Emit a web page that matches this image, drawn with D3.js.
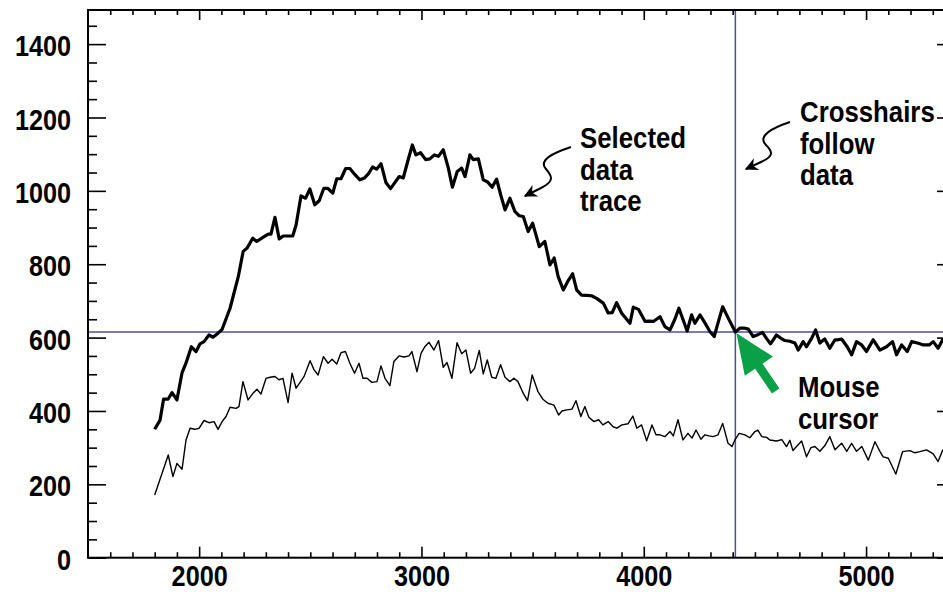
<!DOCTYPE html>
<html>
<head>
<meta charset="utf-8">
<script src="https://cdn.jsdelivr.net/npm/d3@7"></script>
<style>
html, body { margin: 0; padding: 0; background: #fff; overflow: hidden; }
text { font-family: "Liberation Sans", Arial, Helvetica, sans-serif; font-weight: bold; fill: #000; }
</style>
</head>
<body>
<div id="chart"></div>
<script>
// selected (thick) trace
var traceX = [1800,1824,1840,1860,1878,1900,1923,1941,1965,1986,2004,2022,2044,2062,2085,2103,2139,2176,2198,2216,
  2241,2259,2292,2311,2323,2341,2360,2378,2398,2421,2436,2458,2479,2498,2520,2540,2561,2578,2601,2619,
  2638,2659,2678,2701,2723,2743,2761,2780,2798,2818,2840,2861,2881,2900,2918,2938,2959,2975,2996,3019,
  3038,3058,3076,3098,3121,3139,3161,3181,3196,3218,3233,3256,3278,3296,3318,3338,3356,3376,3398,3420,
  3440,3458,3480,3500,3515,3530,3555,3578,3597,3615,3638,3658,3680,3698,3720,3743,3765,3788,3818,3840,
  3858,3878,3900,3920,3938,3953,3976,4006,4024,4043,4073,4095,4118,4140,4158,4176,4195,4215,4230,4253,
  4275,4298,4317,4334,4355,4380,4412,4433,4451,4470,4492,4513,4534,4552,4570,4597,4617,4635,4657,4680,
  4695,4717,4732,4755,4773,4792,4814,4837,4860,4873,4890,4915,4935,4957,4980,5002,5017,5032,5047,5062,
  5092,5119,5137,5160,5185,5205,5227,5242,5257,5284,5302,5324,5345,5368];
var traceY = [350,375,432,432,450,430,504,531,575,562,583,589,607,601,612,622,680,766,835,844,
  871,862,875,882,882,928,869,877,877,877,907,986,980,1005,962,973,1007,1007,994,1033,
  1033,1061,1061,1044,1030,1035,1046,1065,1059,1074,1023,1006,1023,1039,1035,1080,1125,1098,1104,1085,
  1087,1098,1094,1112,1062,1010,1053,1062,1039,1098,1085,1087,1030,1025,1010,1032,990,948,980,944,
  932,930,889,912,880,848,862,798,817,766,730,753,774,730,716,715,714,707,694,667,
  668,695,667,652,639,683,677,644,645,644,657,630,621,650,680,650,618,662,639,662,
  640,616,603,640,684,653,615,626,626,623,603,608,614,598,583,607,598,592,590,585,
  566,589,575,598,621,585,596,571,594,594,596,575,553,589,580,562,578,594,580,566,
  575,589,553,580,562,589,586,583,580,580,589,571,595,590];

// second (thin) trace
var otherX = [1800,1861,1882,1900,1923,1941,1959,1981,2000,2022,2044,2067,2085,2103,2121,2139,2166,2179,2197,2220,
  2242,2260,2278,2301,2319,2341,2359,2377,2400,2418,2436,2454,2472,2499,2517,2535,2559,2580,2598,2619,
  2638,2658,2678,2699,2719,2737,2755,2777,2800,2818,2836,2858,2876,2899,2921,2944,2957,2980,2998,3016,
  3034,3056,3077,3098,3115,3137,3160,3181,3200,3221,3239,3260,3278,3296,3316,3335,3356,3376,3398,3416,
  3434,3458,3477,3498,3524,3546,3569,3596,3617,3632,3654,3677,3695,3717,3735,3753,3776,3797,3816,3840,
  3862,3879,3902,3929,3951,3969,3990,4013,4037,4055,4073,4095,4118,4133,4154,4176,4199,4217,4235,4257,
  4275,4293,4311,4334,4355,4379,4397,4410,4429,4455,4477,4500,4513,4531,4553,4567,4597,4621,4642,4657,
  4671,4710,4732,4752,4770,4792,4814,4837,4860,4890,4913,4935,4957,4981,5010,5040,5062,5077,5100,5134,
  5164,5197,5220,5242,5272,5302,5324,5345,5368];
var otherY = [171,280,221,257,241,321,353,350,353,374,368,371,350,371,385,410,407,412,480,430,
  448,459,446,489,492,494,485,489,423,503,462,478,494,537,512,498,548,530,541,528,
  559,562,530,503,530,489,489,478,480,523,489,469,535,550,547,550,562,507,557,576,
  587,566,592,519,532,489,586,556,566,503,516,565,501,539,492,489,526,492,480,489,
  480,448,428,498,453,432,421,416,389,400,403,405,428,385,412,383,371,376,362,371,
  357,353,362,365,386,353,362,319,362,335,335,330,344,332,376,321,339,326,348,323,
  335,332,330,335,366,312,303,321,339,335,327,344,348,330,328,321,318,322,303,320,
  292,318,275,300,303,290,305,330,294,312,290,312,290,303,266,316,290,275,271,228,
  289,292,286,289,294,283,262,294,290];

var yTicks = [0, 200, 400, 600, 800, 1000, 1200, 1400];
var xTicks = [2000, 3000, 4000, 5000];
var cursorPoint = [4412, 615];
var notes = [
  {lines: ["Selected", "data", "trace"], x: 580, y: 148},
  {lines: ["Crosshairs", "follow", "data"], x: 800, y: 122},
  {lines: ["Mouse", "cursor"], x: 798, y: 397}
];

var svgWidth = 943, svgHeight = 592;
var plot = {left: 88, right: 955, top: 10, bottom: 557.7};
var squeeze = 0.87;   // the original lettering is a narrow Helvetica

var x = d3.scaleLinear().domain([1500, 5400]).range([plot.left, plot.right]);
var y = d3.scaleLinear().domain([0, 1493]).range([plot.bottom, plot.top]);

var svg = d3.select("#chart").append("svg")
    .attr("width", svgWidth)
    .attr("height", svgHeight);

var defs = svg.append("defs");
defs.append("clipPath").attr("id", "plotclip")
  .append("rect")
    .attr("x", plot.left).attr("y", plot.top)
    .attr("width", plot.right - plot.left).attr("height", plot.bottom - plot.top);
defs.append("marker")
    .attr("id", "head")
    .attr("viewBox", "0 0 10 10")
    .attr("refX", 9).attr("refY", 5)
    .attr("markerUnits", "userSpaceOnUse")
    .attr("markerWidth", 15).attr("markerHeight", 13)
    .attr("orient", "auto")
  .append("path")
    .attr("d", "M0,0 L10,5 L0,10 L3,5 Z")
    .attr("fill", "#000");

// crosshairs
svg.append("line")
    .attr("x1", x(cursorPoint[0])).attr("x2", x(cursorPoint[0]))
    .attr("y1", plot.top).attr("y2", plot.bottom)
    .attr("stroke", "#4f4f9f").attr("stroke-width", 1.5);
svg.append("line")
    .attr("x1", plot.left).attr("x2", plot.right)
    .attr("y1", y(cursorPoint[1])).attr("y2", y(cursorPoint[1]))
    .attr("stroke", "#4f4f9f").attr("stroke-width", 1.5);

// traces
var line = d3.line().x(d => x(d[0])).y(d => y(d[1]));
var lines = svg.append("g").attr("clip-path", "url(#plotclip)");
lines.append("path")
    .datum(d3.zip(otherX, otherY))
    .attr("d", line)
    .attr("fill", "none").attr("stroke", "#000").attr("stroke-width", 1.4)
    .attr("stroke-linejoin", "round");
lines.append("path")
    .datum(d3.zip(traceX, traceY))
    .attr("d", line)
    .attr("fill", "none").attr("stroke", "#000").attr("stroke-width", 3.2)
    .attr("stroke-linejoin", "round");

// axes
var yMinor = d3.range(50, 1493, 50).filter(v => v % 200 !== 0);
var xMinor = d3.range(1600, 5400, 100).filter(v => v % 1000 !== 0);
var plain = d3.format("d");

function ticks(axis, tx, ty) {
    var g = svg.append("g")
        .attr("transform", "translate(" + tx + "," + ty + ")")
        .call(axis);
    g.select(".domain").remove();
    g.selectAll("line").attr("stroke", "#000").attr("stroke-width", 1.6);
    return g;
}

var left = ticks(d3.axisLeft(y).tickValues(yTicks).tickFormat(plain).tickSizeInner(-18).tickSizeOuter(0).tickPadding(17), plot.left, 0);
left.selectAll("text")
    .attr("x", -17 / squeeze)
    .attr("dy", "0.4em")
    .attr("transform", "scale(" + squeeze + ",1)")
    .style("font-size", "29px");
ticks(d3.axisLeft(y).tickValues(yMinor).tickSizeInner(-9).tickSizeOuter(0).tickFormat(""), plot.left, 0);
ticks(d3.axisRight(y).tickValues(yTicks).tickSizeInner(-18).tickSizeOuter(0).tickFormat(""), plot.right, 0);
ticks(d3.axisRight(y).tickValues(yMinor).tickSizeInner(-9).tickSizeOuter(0).tickFormat(""), plot.right, 0);

var bottom = ticks(d3.axisBottom(x).tickValues(xTicks).tickFormat(plain).tickSizeInner(-11).tickSizeOuter(0).tickPadding(8), 0, plot.bottom);
bottom.selectAll("text")
    .attr("transform", "scale(" + squeeze + ",1)")
    .style("font-size", "29px");
ticks(d3.axisBottom(x).tickValues(xMinor).tickSizeInner(-5.5).tickSizeOuter(0).tickFormat(""), 0, plot.bottom);
ticks(d3.axisTop(x).tickValues(xTicks).tickSizeInner(-10).tickSizeOuter(0).tickFormat(""), 0, plot.top);
ticks(d3.axisTop(x).tickValues(xMinor).tickSizeInner(-5).tickSizeOuter(0).tickFormat(""), 0, plot.top);

// frame
svg.append("rect")
    .attr("x", plot.left).attr("y", plot.top)
    .attr("width", plot.right - plot.left).attr("height", plot.bottom - plot.top)
    .attr("fill", "none").attr("stroke", "#000").attr("stroke-width", 2);

// annotations
var note = svg.selectAll(".note")
    .data(notes).enter().append("g")
    .attr("class", "note")
    .attr("transform", d => "translate(" + d.x + "," + d.y + ")");
note.selectAll("text")
    .data(d => d.lines).enter().append("text")
    .attr("transform", (d, i) => "translate(0," + (i * 31.5) + ") scale(0.86,1)")
    .style("font-size", "30px")
    .text(d => d);

svg.append("path")
    .attr("d", "M571,147 C553,153 538,160 546,169 C552,176 555,181 541,188 L525,196")
    .attr("fill", "none").attr("stroke", "#000").attr("stroke-width", 2)
    .attr("marker-end", "url(#head)");
svg.append("path")
    .attr("d", "M790,122 C772,128 757,136 766,145 C772,151 775,156 761,162 L746,169")
    .attr("fill", "none").attr("stroke", "#000").attr("stroke-width", 2)
    .attr("marker-end", "url(#head)");

// mouse cursor arrow, tip on the crosshair point
svg.append("polygon")
    .attr("points", [[0,0],[40,-17],[40,-4.5],[70,-4.5],[70,4.5],[40,4.5],[40,17]].map(p => p.join(",")).join(" "))
    .attr("fill", "#09a047")
    .attr("transform", "translate(" + (x(cursorPoint[0]) + 1) + "," + (y(cursorPoint[1]) + 1) + ") rotate(55.8)");
</script>
</body>
</html>
